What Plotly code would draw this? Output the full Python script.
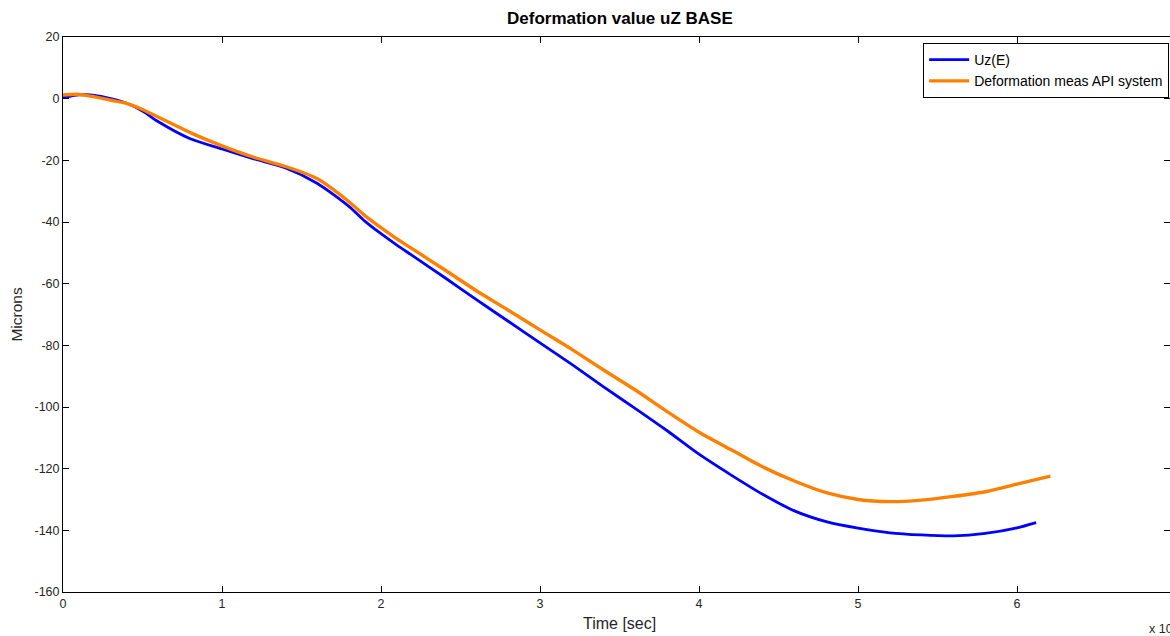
import plotly.graph_objects as go

# Time axis in units of 1e4 (labelled "Time [sec]" with an "x 10^4" multiplier)
time_uz = [0.0, 0.1, 0.2, 0.3, 0.4, 0.5, 0.6, 0.8, 1.0, 1.2, 1.4, 1.6, 1.8, 1.9, 2.0, 2.1,
           2.2, 2.4, 2.6, 2.8, 3.0, 3.2, 3.4, 3.6, 3.8, 4.0, 4.2, 4.4, 4.6, 4.8,
           5.0, 5.2, 5.4, 5.6, 5.8, 6.0, 6.12]
uz_e = [0.3, 1.2, 1.1, 0.0, -1.5, -4.0, -7.5, -13.0, -16.3, -19.5, -22.5, -27.5, -35.0, -39.8, -43.8, -47.5,
        -51.0, -58.0, -65.2, -72.2, -79.2, -86.2, -93.5, -100.5, -107.7, -115.3, -122.0, -128.3, -133.7, -137.2,
        -139.3, -140.8, -141.5, -141.8, -141.0, -139.2, -137.5]

time_api = [0.0, 0.1, 0.2, 0.3, 0.4, 0.5, 0.6, 0.8, 1.0, 1.2, 1.4, 1.6, 1.8, 1.9, 2.0, 2.1,
            2.2, 2.4, 2.6, 2.8, 3.0, 3.2, 3.4, 3.6, 3.8, 4.0, 4.2, 4.4, 4.6, 4.8,
            5.0, 5.2, 5.4, 5.6, 5.8, 6.0, 6.21]
deform_api = [1.2, 1.4, 0.6, -0.5, -1.5, -3.5, -6.0, -11.0, -15.3, -19.0, -22.0, -26.0, -33.5, -38.0, -41.8, -45.5,
              -48.8, -55.5, -62.3, -68.6, -75.0, -81.3, -88.0, -94.5, -101.5, -108.2, -113.8, -119.4, -124.0, -127.8,
              -130.0, -130.7, -130.2, -129.0, -127.5, -125.0, -122.4]

x_ticks = [0, 1, 2, 3, 4, 5, 6, 7]
y_ticks = [20, 0, -20, -40, -60, -80, -100, -120, -140, -160]

FONT = "Liberation Sans, Arial, sans-serif"

fig = go.Figure()
fig.add_trace(go.Scatter(
    x=time_uz, y=uz_e, name="Uz(E)", mode="lines",
    line=dict(color="#0000ff", width=2.8, shape="spline", smoothing=0.7),
))
fig.add_trace(go.Scatter(
    x=time_api, y=deform_api, name="Deformation meas API system", mode="lines",
    line=dict(color="#ff8000", width=3.4, shape="spline", smoothing=0.7),
))

axis_common = dict(
    showline=True, linecolor="#000000", linewidth=1, mirror="ticks",
    ticks="inside", ticklen=6, tickcolor="#000000", tickwidth=1,
    showgrid=False, zeroline=False,
    tickfont=dict(family=FONT, size=12.5, color="#262626"),
)

fig.update_layout(
    width=1170, height=636,
    margin=dict(l=63, r=0, t=37, b=44),
    paper_bgcolor="#ffffff", plot_bgcolor="#ffffff",
    font=dict(family=FONT, size=12, color="#000000"),
    xaxis=dict(range=[0, 6.962], tickvals=x_ticks, ticktext=[str(v) for v in x_ticks], **axis_common),
    yaxis=dict(range=[-160, 20], tickvals=y_ticks, ticktext=[str(v) for v in y_ticks],
               title=dict(text="Microns", font=dict(family=FONT, size=15.5, color="#262626"), standoff=8),
               **axis_common),
    legend=dict(
        x=0.777, y=0.989, xanchor="left", yanchor="top",
        bgcolor="#ffffff", bordercolor="#000000", borderwidth=1,
        font=dict(family=FONT, size=14, color="#000000"),
        tracegroupgap=0, itemwidth=40,
    ),
    showlegend=True,
    annotations=[
        dict(text="<b>Deformation value uZ BASE</b>", xref="x", yref="paper", x=3.5, y=1.0,
             yshift=19, xanchor="center", yanchor="middle", showarrow=False,
             font=dict(family=FONT, size=17, color="#000000")),
        dict(text="Time [sec]", xref="x", yref="paper", x=3.5, y=0, yshift=-31,
             xanchor="center", yanchor="middle", showarrow=False,
             font=dict(family=FONT, size=16, color="#262626")),
        dict(text="x 10<sup>4</sup>", xref="paper", yref="paper", x=0.979, y=0, yshift=-36,
             xanchor="left", yanchor="middle", showarrow=False,
             font=dict(family=FONT, size=12.5, color="#262626")),
    ],
)

fig.write_html("out.html")
